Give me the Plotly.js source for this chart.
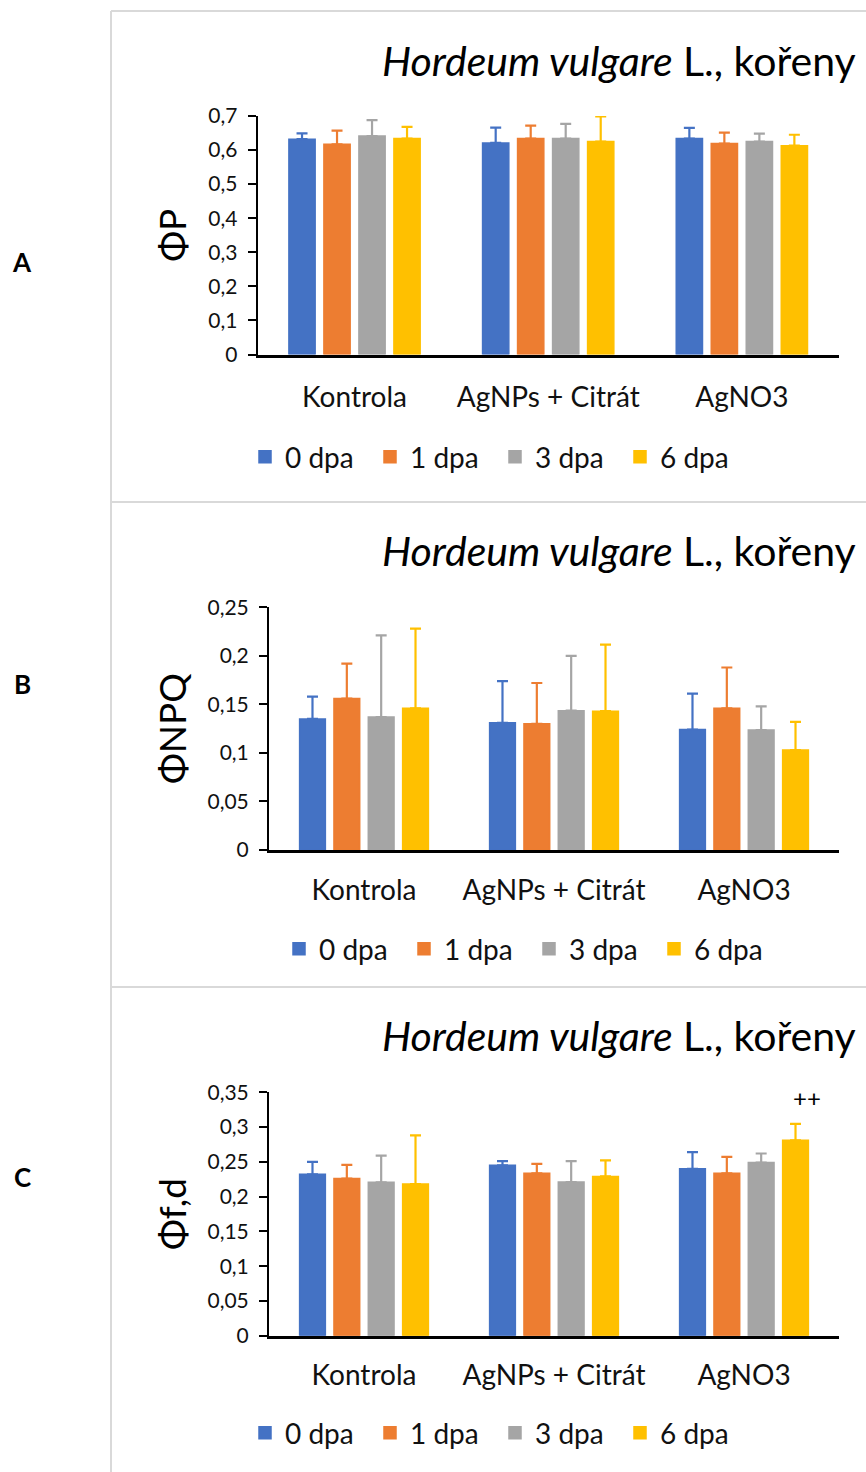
<!DOCTYPE html>
<html>
<head>
<meta charset="utf-8">
<script src="https://cdn.plot.ly/plotly-3.0.1.min.js"></script>
<style>html,body{margin:0;padding:0;background:#fff;}#chart{width:866px;height:1472px;}</style>
</head>
<body>
<div id="chart"></div>
<script>
// ---- data ----
const categories = ["Kontrola", "AgNPs + Citrát", "AgNO3"];
const seriesNames = ["0 dpa", "1 dpa", "3 dpa", "6 dpa"];
const colors = ["#4472C4", "#ED7D31", "#A5A5A5", "#FFC000"];

// Panel A: ΦP
const phiP_0 = [0.632, 0.621, 0.634];
const phiP_1 = [0.617, 0.634, 0.619];
const phiP_3 = [0.641, 0.634, 0.625];
const phiP_6 = [0.634, 0.625, 0.613];
const phiP_err0 = [0.017, 0.045, 0.031];
const phiP_err1 = [0.040, 0.038, 0.032];
const phiP_err3 = [0.047, 0.043, 0.023];
const phiP_err6 = [0.034, 0.074, 0.032];

// Panel B: ΦNPQ
const phiNPQ_0 = [0.135, 0.131, 0.124];
const phiNPQ_1 = [0.156, 0.130, 0.146];
const phiNPQ_3 = [0.137, 0.1435, 0.1236];
const phiNPQ_6 = [0.146, 0.143, 0.103];
const phiNPQ_err0 = [0.023, 0.043, 0.037];
const phiNPQ_err1 = [0.036, 0.042, 0.042];
const phiNPQ_err3 = [0.084, 0.0565, 0.0244];
const phiNPQ_err6 = [0.082, 0.0685, 0.029];

// Panel C: Φf,d
const phiFD_0 = [0.232, 0.245, 0.240];
const phiFD_1 = [0.226, 0.2335, 0.2335];
const phiFD_3 = [0.2205, 0.221, 0.249];
const phiFD_6 = [0.218, 0.229, 0.281];
const phiFD_err0 = [0.018, 0.006, 0.024];
const phiFD_err1 = [0.0195, 0.0135, 0.0235];
const phiFD_err3 = [0.0385, 0.030, 0.013];
const phiFD_err6 = [0.070, 0.023, 0.0235];

const panelTitle = "<i>Hordeum vulgare</i> L., kořeny";
const yTitles = ["ΦP", "ΦNPQ", "Φf,d"];
const panelLetters = ["A", "B", "C"];
const significance = "++";

// ---- layout helpers ----
const W = 866, H = 1472;
const fx = p => p / W;
const fy = p => 1 - p / H;
const FONT = "Lato, 'Open Sans', sans-serif";
const TXT = "#111111";

const panels = [
  {vals: [phiP_0, phiP_1, phiP_3, phiP_6], errs: [phiP_err0, phiP_err1, phiP_err3, phiP_err6], range: [0, 0.7], dtick: 0.1,
   xd: [257.7, 838.7], yd: [354.5, 116], legendY: 457, legendX: 245, titleY: 60, letterY: 262},
  {vals: [phiNPQ_0, phiNPQ_1, phiNPQ_3, phiNPQ_6], errs: [phiNPQ_err0, phiNPQ_err1, phiNPQ_err3, phiNPQ_err6], range: [0, 0.25], dtick: 0.05,
   xd: [269, 839], yd: [850, 607.3], legendY: 949, legendX: 279, titleY: 550, letterY: 684},
  {vals: [phiFD_0, phiFD_1, phiFD_3, phiFD_6], errs: [phiFD_err0, phiFD_err1, phiFD_err3, phiFD_err6], range: [0, 0.35], dtick: 0.05,
   xd: [269, 839], yd: [1335.7, 1092.3], legendY: 1433, legendX: 245, titleY: 1035, letterY: 1177}
];

const traces = [];
const layout = {
  width: W, height: H,
  margin: {l: 0, r: 0, t: 0, b: 0},
  paper_bgcolor: "#ffffff", plot_bgcolor: "#ffffff",
  barmode: "group", bargap: 0.277, bargroupgap: 0.25,
  separators: ", ",
  font: {family: FONT, color: TXT},
  annotations: [], shapes: []
};

panels.forEach((p, i) => {
  const n = i === 0 ? "" : String(i + 1);
  const xa = "x" + n, ya = "y" + n;
  const lg = "legend" + n;
  for (let s = 0; s < 4; s++) {
    traces.push({
      type: "bar", name: seriesNames[s], x: categories, y: p.vals[s],
      xaxis: xa, yaxis: ya, legend: lg,
      marker: {color: colors[s], line: {color: colors[s], width: 1.5}},
      error_y: {type: "data", symmetric: false, array: p.errs[s], arrayminus: p.errs[s].map(() => 0),
                color: colors[s], thickness: 2.2, width: 5.5}
    });
  }
  layout["xaxis" + n] = {
    domain: [fx(p.xd[0]), fx(p.xd[1])], anchor: ya,
    showline: true, linecolor: "#000", linewidth: 3, ticks: "",
    tickfont: {size: 28, family: FONT, color: TXT}, ticklabelstandoff: i === 0 ? 16 : 13,
    showgrid: false, zeroline: false, fixedrange: true
  };
  layout["yaxis" + n] = {
    domain: [fy(p.yd[0]), fy(p.yd[1])], anchor: xa, range: p.range, dtick: p.dtick,
    showline: true, linecolor: "#000", linewidth: 2, ticks: "outside", ticklen: 8, tickwidth: 2, tickcolor: "#000",
    tickfont: {size: 21, family: FONT, color: TXT}, ticklabelstandoff: 6,
    showgrid: false, zeroline: false, fixedrange: true,
    title: {text: yTitles[i], font: {size: 37, family: FONT, color: "#000"}, standoff: 10}
  };
  layout[lg] = {
    orientation: "h", x: fx(p.legendX), xanchor: "left", y: fy(p.legendY), yanchor: "middle",
    font: {size: 28, family: FONT, color: TXT}, entrywidth: 80, entrywidthmode: "pixels",
    bgcolor: "rgba(0,0,0,0)", itemclick: false
  };
  layout.annotations.push({
    text: panelTitle, xref: "paper", yref: "paper", x: fx(858), y: fy(p.titleY),
    xanchor: "right", yanchor: "middle", showarrow: false,
    font: {size: 41, family: FONT, color: "#000"}
  });
  layout.annotations.push({
    text: "<b>" + panelLetters[i] + "</b>", xref: "paper", yref: "paper", x: fx(22), y: fy(p.letterY),
    xanchor: "center", yanchor: "middle", showarrow: false,
    font: {size: 26, family: FONT, color: "#000"}
  });
});

// significance mark above AgNO3, 6 dpa in panel C
layout.annotations.push({
  text: significance, xref: "x3", yref: "y3", x: categories[2], y: phiFD_6[2] + phiFD_err6[2],
  xshift: 63, yshift: 26, showarrow: false, xanchor: "center", yanchor: "middle",
  font: {size: 24, family: FONT, color: "#000"}
});

// frame lines
const frame = {type: "line", xref: "paper", yref: "paper", line: {color: "#d9d9d9", width: 2}};
layout.shapes.push(Object.assign({}, frame, {x0: fx(111), x1: fx(111), y0: fy(11), y1: 0}));
layout.shapes.push(Object.assign({}, frame, {x0: fx(111), x1: 1, y0: fy(11), y1: fy(11)}));
layout.shapes.push(Object.assign({}, frame, {x0: fx(111), x1: 1, y0: fy(502), y1: fy(502)}));
layout.shapes.push(Object.assign({}, frame, {x0: fx(111), x1: 1, y0: fy(987), y1: fy(987)}));

Plotly.newPlot("chart", traces, layout, {displayModeBar: false, staticPlot: true});
</script>
</body>
</html>
